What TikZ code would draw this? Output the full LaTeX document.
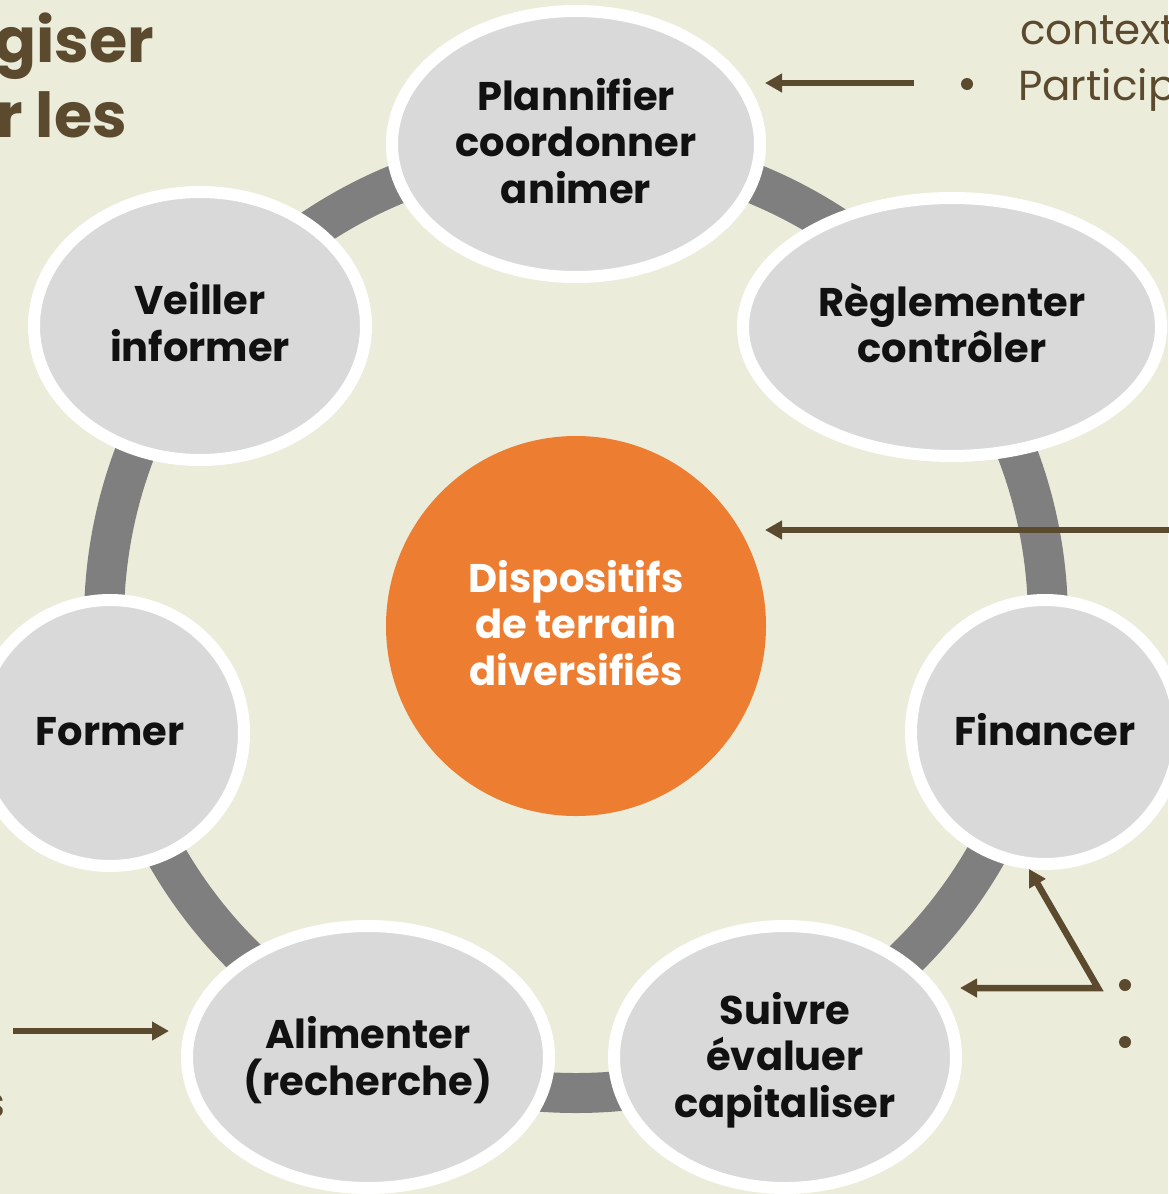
\documentclass[tikz,border=0pt]{standalone}
\usepackage{fontspec}
\setmainfont{Poppins}
\usetikzlibrary{shapes.geometric,arrows.meta}
\definecolor{bg}{HTML}{ECECDB}
\definecolor{ringgray}{HTML}{7F7F7F}
\definecolor{bub}{HTML}{D9D9D9}
\definecolor{brn}{HTML}{5C4A2E}
\definecolor{org}{HTML}{ED7D31}
\definecolor{ink}{HTML}{111111}
\begin{document}
\begin{tikzpicture}[x=1pt,y=-1pt,
  bubble/.style={ellipse, fill=bub, draw=white, line width=12pt, inner sep=0pt},
  lbl/.style={inner sep=0pt, align=center, font=\fontsize{40}{46.5}\selectfont\bfseries, text=ink},
  arr/.style={draw=brn, line width=6.5pt, -{Triangle[length=17pt,width=18pt]}},
  arrboth/.style={draw=brn, line width=6.5pt, line join=miter, {Triangle[length=17pt,width=18pt]}-{Triangle[length=17pt,width=18pt]}},
  side/.style={text=brn, inner sep=0pt},
  dot/.style={circle, fill=brn, minimum size=12pt, inner sep=0pt},
]
\useasboundingbox (0,0) rectangle (1168,1194);
\fill[bg] (0,0) rectangle (1168,1194);

% ring
\coordinate (ringc) at (576,621);
\draw[ringgray, line width=40pt] (ringc) circle[radius=472pt];

% bubbles
\node[bubble, minimum width=368pt, minimum height=266pt] (plan) at (576,144) {};
\node[bubble, minimum width=332pt, minimum height=268pt] (veil) at (200,326) {};
\node[bubble, minimum width=418pt, minimum height=258pt] (regl) at (952,327) {};
\node[bubble, minimum width=268pt, minimum height=264pt] (fin) at (1045,732) {};
\node[bubble, minimum width=268pt, minimum height=266pt] (form) at (110,733) {};
\node[bubble, minimum width=342pt, minimum height=262pt] (suiv) at (785,1057) {};
\node[bubble, minimum width=362pt, minimum height=262pt] (alim) at (368,1057) {};

% bubble texts
\node[lbl] (plan-t) at ([yshift=3pt]plan.center) {Plannifier\\coordonner\\animer};
\node[lbl] (veil-t) at ([yshift=4pt]veil.center) {Veiller\\informer};
\node[lbl] (regl-t) at ([yshift=4pt]regl.center) {Règlementer\\contrôler};
\node[lbl] (fin-t) at ([yshift=2pt]fin.center) {Financer};
\node[lbl] (form-t) at ([yshift=1pt]form.center) {Former};
\node[lbl] (suiv-t) at ([yshift=-3pt]suiv.center) {Suivre\\évaluer\\capitaliser};
\node[lbl] (alim-t) at ([yshift=-3pt]alim.center) {Alimenter\\(recherche)};

% centre
\node[circle, fill=org, minimum size=380pt, inner sep=0pt] (disp) at (576,626) {};
\node[lbl, text=white] (disp-t) at ([yshift=3pt]disp.center) {Dispositifs\\de terrain\\diversifiés};

% side texts
\node[side, anchor=base east, font=\fontsize{62}{75}\selectfont\bfseries] (t1) at (154,62) {giser};
\node[side, anchor=base east, font=\fontsize{62}{75}\selectfont\bfseries] (t2) at (127,137) {r les};
\node[side, anchor=base west, font=\fontsize{42}{50}\selectfont] (t3) at (1020,44) {context};
\node[side, anchor=base west, font=\fontsize{42}{50}\selectfont] (t4) at (1018,100) {Particip};
\node[side, anchor=base east, font=\fontsize{42}{50}\selectfont] (t5) at (6,1117) {s};
\node[dot] (b1) at (967,84) {};
\node[dot] (b2) at (1125,985) {};
\node[dot] (b3) at (1125,1042) {};

% arrows
\coordinate (a1s) at (914,83);
\coordinate (a1e) at (765,83);
\draw[arr] (a1s) -- (a1e);
\coordinate (a2s) at (1180,530);
\coordinate (a2e) at (765,530);
\draw[arr] (a2s) -- (a2e);
\coordinate (a3s) at (13,1031);
\coordinate (a3e) at (169,1031);
\draw[arr] (a3s) -- (a3e);
\coordinate (a4l) at (960,988);
\coordinate (a4c) at (1098,988);
\coordinate (a4u) at (1029,869);
\draw[arrboth] (a4l) -- (a4c) -- (a4u);
\end{tikzpicture}
\end{document}
